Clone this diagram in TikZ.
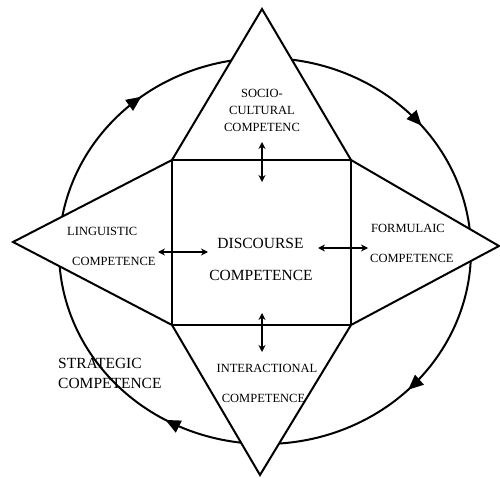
\documentclass[tikz,border=0pt]{standalone}
\usepackage{fontspec}
\setmainfont{Liberation Serif}
\usetikzlibrary{arrows.meta,decorations.markings}
\begin{document}
\begin{tikzpicture}[x=1pt,y=-1pt,
  outline/.style={line width=2pt,line join=miter},
  cycle arc/.style={line width=2pt,postaction={decorate},
    decoration={markings,mark=at position #1 with {\arrow{Triangle[length=15pt,width=13pt]}}}},
  link/.style={line width=1.6pt,{Stealth[length=7pt,width=7pt]}-{Stealth[length=7pt,width=7pt]}},
  small/.style={inner sep=0pt,font=\fontsize{12.5}{17}\selectfont},
  large/.style={inner sep=0pt,font=\fontsize{15.5}{20}\selectfont}]
\useasboundingbox (0,0) rectangle (500,478);

% square corners and star apices
\coordinate (TL) at (172,160);
\coordinate (TR) at (351,160);
\coordinate (BL) at (172,325);
\coordinate (BR) at (351,325);
\coordinate (N) at (262,9);
\coordinate (E) at (499,246);
\coordinate (S) at (260,475);
\coordinate (W) at (13,242);

% clockwise cycle around the star
\draw[cycle arc=0.58] plot[domain=180:270,samples=60] ({265+206*cos(\x)},{251+193*sin(\x)});
\draw[cycle arc=0.56] plot[domain=270:360,samples=60] ({265+206*cos(\x)},{251+193*sin(\x)});
\draw[cycle arc=0.5]  plot[domain=0:90,samples=60]    ({265+206*cos(\x)},{251+193*sin(\x)});
\draw[cycle arc=0.33] plot[domain=90:180,samples=60]  ({265+206*cos(\x)},{251+193*sin(\x)});

% star with the central square
\filldraw[outline,fill=white] (N) -- (TR) -- (E) -- (BR) -- (S) -- (BL) -- (W) -- (TL) -- cycle;
\draw[outline] (TL) rectangle (BR);

% links between the centre and the four parts
\coordinate (nA) at (262,142); \coordinate (nB) at (262,182);
\coordinate (sA) at (262,313); \coordinate (sB) at (262,352);
\coordinate (wA) at (158,252); \coordinate (wB) at (208,252);
\coordinate (eA) at (318,248); \coordinate (eB) at (368,248);
\draw[link] (nA) -- (nB);
\draw[link] (sA) -- (sB);
\draw[link] (wA) -- (wB);
\draw[link] (eA) -- (eB);

% labels
\node[small,align=center] (soc) at (262,110) {SOCIO-\\CULTURAL\\COMPETENC};
\node[small,anchor=west] (lin1) at (67,231) {LINGUISTIC};
\node[small,anchor=west] (lin2) at (72,261) {COMPETENCE};
\node[small,anchor=west] (for1) at (371,228) {FORMULAIC};
\node[small,anchor=west] (for2) at (370,258) {COMPETENCE};
\node[small] (int1) at (267,368) {INTERACTIONAL};
\node[small] (int2) at (263.5,398) {COMPETENCE};
\node[large] (dis1) at (260.5,243) {DISCOURSE};
\node[large] (dis2) at (261,275) {COMPETENCE};
\node[large,anchor=west] (str1) at (58,363) {STRATEGIC};
\node[large,anchor=west] (str2) at (58,383) {COMPETENCE};
\end{tikzpicture}
\end{document}
